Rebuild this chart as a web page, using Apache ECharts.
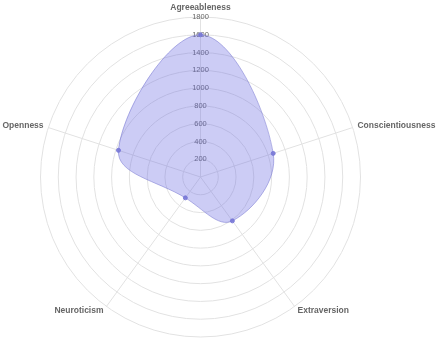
<!DOCTYPE html>
<html>
<head>
<meta charset="utf-8">
<script src="https://cdn.jsdelivr.net/npm/echarts@6/dist/echarts.min.js"></script>
<style>html,body{margin:0;padding:0;background:#fff}#c{width:438px;height:342px}</style>
</head>
<body>
<div id="c"></div>
<script>
var categories = ['Agreeableness', 'Conscientiousness', 'Extraversion', 'Neuroticism', 'Openness'];
var values = [1600, 860, 610, 290, 970];
var tickMax = 1800;
var tickStep = 200;

var chart = echarts.init(document.getElementById('c'));
var CENTER = [200.5, 177];
var RADIUS = 160;
var n = categories.length;

// ECharts radar goes counter-clockwise; reorder so the picture runs clockwise.
var order = [0];
for (var i = n - 1; i >= 1; i--) order.push(i);
var indicators = order.map(function (idx, k) {
  var ind = { name: categories[idx], min: 0, max: tickMax };
  if (k === 0) {
    ind.axisLabel = { show: true };
  }
  return ind;
});

var seriesData = values.map(function (v, i) { return [v, i * 360 / n]; });

var option = {
  animation: false,
  radar: {
    center: CENTER,
    radius: RADIUS,
    shape: 'circle',
    startAngle: 90,
    splitNumber: tickMax / tickStep,
    indicator: indicators,
    nameGap: 5,
    axisName: { color: '#666', fontSize: 8.5, fontWeight: 'bold', fontFamily: 'Liberation Sans, Arial, sans-serif' },
    axisLine: { lineStyle: { color: '#e2e2e2', width: 1 } },
    splitLine: { lineStyle: { color: '#e2e2e2', width: 1 } },
    splitArea: { show: false },
    axisTick: { show: false },
    axisLabel: {
      show: false, showMinLabel: false, fontSize: 7.5, color: '#666', align: 'center', margin: 0,
      fontFamily: 'Liberation Sans, Arial, sans-serif',
      formatter: function (v) { return String(v); }
    }
  },
  polar: { center: CENTER, radius: RADIUS },
  angleAxis: { type: 'value', min: 0, max: 360, startAngle: 90, clockwise: true, show: false },
  radiusAxis: { type: 'value', min: 0, max: tickMax, show: false },
  series: [{
    type: 'custom',
    coordinateSystem: 'polar',
    data: seriesData,
    renderItem: function (params, api) {
      var children = [];
      if (params.dataIndex === 0) {
        var pts = seriesData.map(function (d) { return api.coord(d); });
        children.push({
          type: 'polygon',
          shape: { points: pts, smooth: 0.4 },
          style: { fill: 'rgba(110,110,225,0.35)', stroke: 'rgba(120,120,210,0.55)', lineWidth: 1 }
        });
      }
      var p = api.coord([api.value(0), api.value(1)]);
      children.push({
        type: 'circle',
        z2: 10,
        shape: { cx: p[0], cy: p[1], r: 2 },
        style: { fill: 'rgba(120,120,215,0.9)', stroke: 'rgba(120,120,215,0.9)' }
      });
      return { type: 'group', children: children };
    }
  }]
};
chart.setOption(option);
</script>
</body>
</html>
